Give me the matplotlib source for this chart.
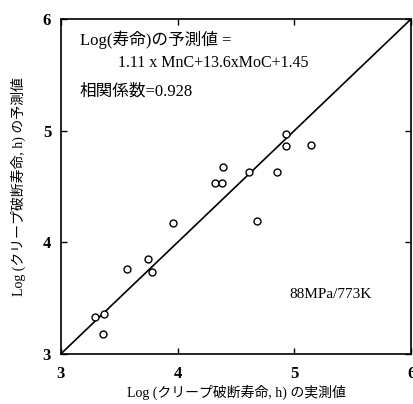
import matplotlib
matplotlib.use("Agg")
import matplotlib.pyplot as plt
import numpy as np

plt.rcParams['font.family'] = ['Liberation Serif', 'Noto Sans CJK JP']

# measured vs predicted log(rupture life)
measured = [3.29, 3.37, 3.36, 3.57, 3.75, 3.78, 3.96, 4.32, 4.38, 4.39,
            4.61, 4.68, 4.85, 4.93, 4.93, 5.14]
predicted = [3.33, 3.36, 3.18, 3.76, 3.85, 3.73, 4.17, 4.53, 4.53, 4.67,
             4.63, 4.19, 4.63, 4.97, 4.86, 4.87]
ticks = [3, 4, 5, 6]

fig = plt.figure(figsize=(4.14, 4.04), dpi=100)
ax = fig.add_axes([0.147, 0.124, 0.846, 0.829])

ax.plot([3, 6], [3, 6], color='black', linewidth=1.2)
ax.plot(measured, predicted, 'o', markerfacecolor='white',
        markeredgecolor='black', markersize=5, markeredgewidth=1.0)

ax.set_xlim(3, 6)
ax.set_ylim(3, 6)
ax.set_xticks(ticks)
ax.set_yticks(ticks)
ax.set_xticklabels([str(t) for t in ticks], fontsize=12, fontweight='bold')
ax.set_yticklabels([str(t) for t in ticks], fontsize=12, fontweight='bold')
ax.tick_params(direction='in', length=4, width=1, top=True, right=True)
ax.tick_params(axis='x', pad=9)
ax.tick_params(axis='y', pad=7)
for s in ax.spines.values():
    s.set_linewidth(1.2)

ax.set_xlabel('Log (クリープ破断寿命, h) の実測値', fontsize=10, labelpad=2)
ax.set_ylabel('Log (クリープ破断寿命, h) の予測値', fontsize=10, labelpad=12)

ax.text(3.16, 5.81, 'Log(寿命)の予測値 =', fontsize=12, va='center')
ax.text(3.49, 5.61, '1.11 x MnC+13.6xMoC+1.45', fontsize=11.5, va='center')
ax.text(3.16, 5.35, '相関係数=0.928', fontsize=12, va='center')
ax.text(4.96, 3.53, '88MPa/773K', fontsize=11, va='center')

fig.savefig('out.png', dpi=100)
